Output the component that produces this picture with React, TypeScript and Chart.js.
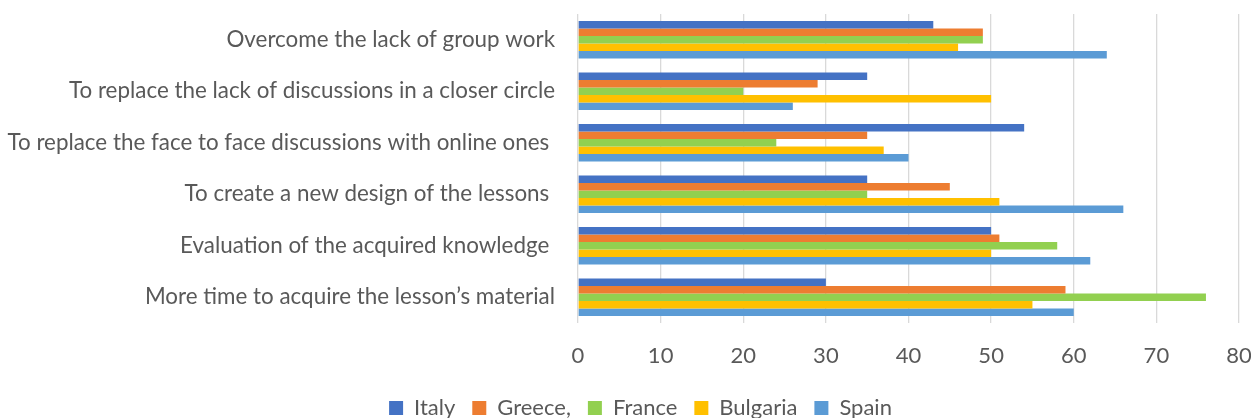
import React, { useEffect, useRef } from "react";
import { Chart, registerables } from "chart.js";

Chart.register(...registerables);

const categories = [
  "Overcome the lack of group work",
  "To replace the lack of discussions in a closer circle",
  "To replace the face to face discussions with online ones ",
  "To create a new design of the lessons ",
  "Evaluation of the acquired knowledge ",
  "More time to acquire the lesson’s material",
];

const seriesNames = ["Italy", "Greece,", "France", "Bulgaria", "Spain"];
const italy = [43, 35, 54, 35, 50, 30];
const greece = [49, 29, 35, 45, 51, 59];
const france = [49, 20, 24, 35, 58, 76];
const bulgaria = [46, 50, 37, 51, 50, 55];
const spain = [64, 26, 40, 66, 62, 60];
const seriesColors = ["#4472C4", "#ED7D31", "#92D050", "#FFC000", "#5B9BD5"];

const xMin = 0;
const xMax = 80;
const xStep = 10;

const FONT = "Lato";
const TEXT = "#595959";

const legendShift = {
  id: "legendShift",
  afterLayout(chart: any) {
    const lg = chart.legend;
    if (lg) {
      lg.left += 21;
      lg.right += 21;
      lg.top += 11;
      lg.bottom += 11;
    }
  },
};

export default function App() {
  const ref = useRef<HTMLCanvasElement | null>(null);

  useEffect(() => {
    if (!ref.current) return;
    const values = [italy, greece, france, bulgaria, spain];
    const chart = new Chart(ref.current, {
      type: "bar",
      data: {
        labels: categories,
        datasets: values.map((v, i) => ({
          label: seriesNames[i],
          data: v,
          backgroundColor: seriesColors[i],
          borderWidth: 0,
          categoryPercentage: 0.73,
          barPercentage: 1,
        })),
      },
      plugins: [legendShift],
      options: {
        indexAxis: "y",
        responsive: false,
        animation: false,
        devicePixelRatio: 1,
        layout: { padding: { top: 14, right: 12, left: 0, bottom: 0 } },
        plugins: {
          tooltip: { enabled: false },
          legend: {
            position: "bottom",
            labels: {
              boxWidth: 14,
              boxHeight: 14,
              padding: 17,
              color: TEXT,
              font: { family: FONT, size: 22 },
            },
          },
        },
        scales: {
          x: {
            min: xMin,
            max: xMax,
            ticks: {
              stepSize: xStep,
              color: TEXT,
              padding: 20,
              font: { family: FONT, size: 22 },
            },
            grid: { color: "#D9D9D9", lineWidth: 1.3, drawTicks: false },
            border: { display: false },
            afterFit: (scale: any) => {
              scale.paddingLeft = 0;
              scale.paddingRight = 0;
              scale.height = 46;
            },
          },
          y: {
            ticks: {
              color: TEXT,
              padding: 23,
              font: { family: FONT, size: 22.4 },
            },
            grid: { display: false, drawTicks: false },
            border: { display: false },
            afterFit: (scale: any) => {
              scale.width = 578;
              scale.paddingTop = 0;
              scale.paddingBottom = 0;
            },
          },
        },
      },
    });
    return () => chart.destroy();
  }, []);

  return (
    <div style={{ position: "fixed", left: 0, top: 0, width: 1251, height: 418, background: "#fff" }}>
      <canvas ref={ref} width={1251} height={418} />
    </div>
  );
}
